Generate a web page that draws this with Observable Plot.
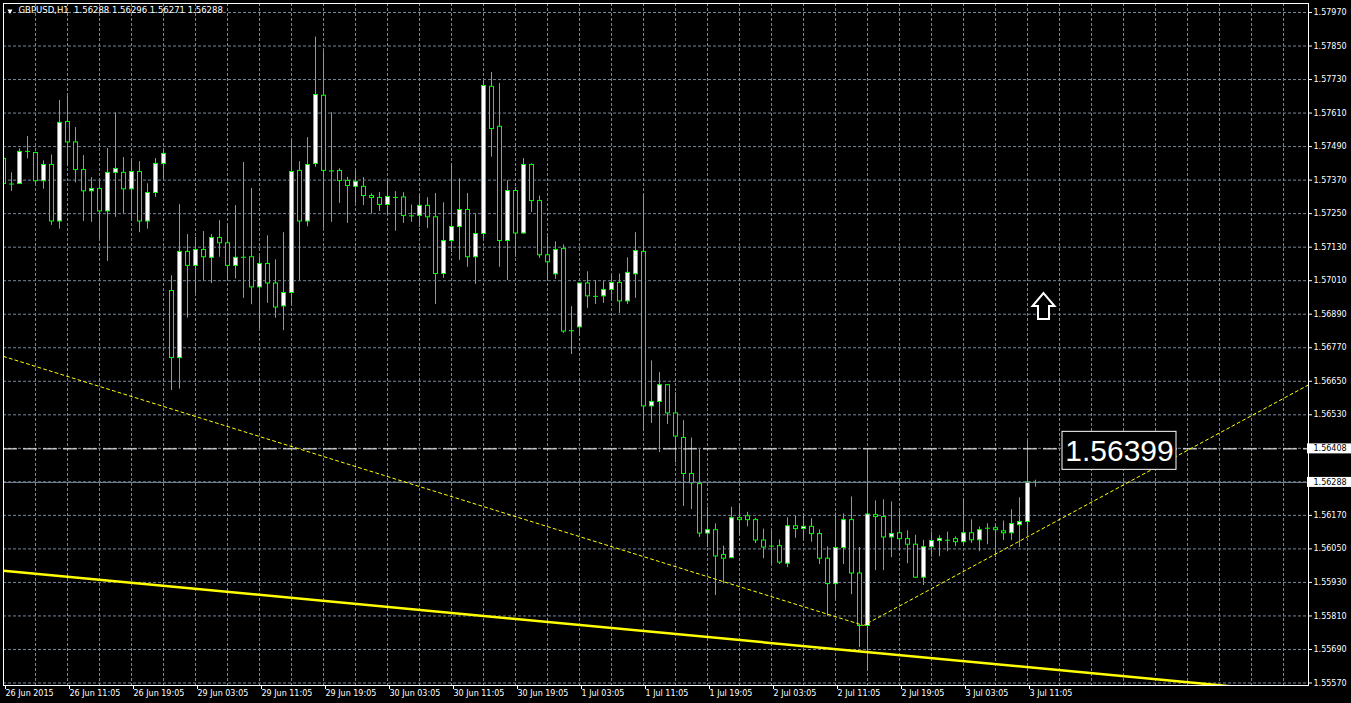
<!DOCTYPE html>
<html>
<head>
<meta charset="utf-8">
<script src="https://cdn.jsdelivr.net/npm/d3@7"></script>
<script src="https://cdn.jsdelivr.net/npm/@observablehq/plot@0.6"></script>
<style>
html,body{margin:0;padding:0;background:#000;overflow:hidden}
</style>
</head>
<body>
<div id="chart"></div>
<script>
// ---- header ----
const symbolName = "GBPUSD,H1";
const lastQuote = [1.56288, 1.56296, 1.56271, 1.56288];

// ---- hourly candles (bar 0 = 26 Jun 03:05 ... bar 129 = 3 Jul 12:05) ----
const opens = [1.57446,1.57356,1.57356,1.57473,1.57467,1.57366,1.57424,1.57222,1.57578,1.57505,
1.57406,1.57330,1.57338,1.57258,1.57396,1.57396,1.57337,1.57399,1.57222,1.57324,
1.57428,1.56973,1.56733,1.57113,1.57063,1.57120,1.57092,1.57163,1.57144,1.57063,
1.57094,1.57094,1.56986,1.57070,1.57000,1.56918,1.56966,1.57403,1.57222,1.57428,
1.57672,1.57403,1.57403,1.57367,1.57346,1.57346,1.57313,1.57306,1.57281,1.57308,
1.57308,1.57242,1.57242,1.57278,1.57237,1.57034,1.57152,1.57202,1.57263,1.57094,
1.57177,1.57704,1.57561,1.57152,1.57331,1.57179,1.57424,1.57295,1.57101,1.57033,
1.57124,1.56831,1.56843,1.57000,1.56954,1.56954,1.56977,1.57002,1.56936,1.57033,
1.57113,1.56560,1.56576,1.56636,1.56535,1.56447,1.56318,1.56282,1.56105,1.56117,
1.56028,1.56017,1.56160,1.56167,1.56153,1.56080,1.56060,1.56060,1.55997,1.56131,
1.56121,1.56129,1.56103,1.56015,1.55924,1.56053,1.56153,1.55962,1.55774,1.56171,
1.56164,1.56091,1.56106,1.56085,1.56065,1.55947,1.56056,1.56078,1.56081,1.56085,
1.56074,1.56106,1.56081,1.56124,1.56124,1.56113,1.56106,1.56135,1.56146,1.56288];

const highs = [1.57458,1.57396,1.57482,1.57526,1.57470,1.57439,1.57460,1.57655,1.57669,1.57558,
1.57458,1.57379,1.57365,1.57483,1.57611,1.57451,1.57442,1.57436,1.57357,1.57447,
1.57476,1.57028,1.57282,1.57175,1.57165,1.57186,1.57175,1.57225,1.57208,1.57279,
1.57433,1.57340,1.57096,1.57171,1.57085,1.57182,1.57512,1.57436,1.57522,1.57882,
1.57830,1.57611,1.57411,1.57380,1.57403,1.57379,1.57321,1.57326,1.57365,1.57329,
1.57325,1.57281,1.57317,1.57307,1.57322,1.57289,1.57429,1.57375,1.57322,1.57249,
1.57726,1.57755,1.57716,1.57368,1.57343,1.57447,1.57428,1.57313,1.57167,1.57149,
1.57138,1.56917,1.57000,1.57042,1.57010,1.57009,1.57030,1.57034,1.57092,1.57182,
1.57318,1.56723,1.56681,1.56638,1.56609,1.56509,1.56447,1.56407,1.56199,1.56140,
1.56060,1.56199,1.56207,1.56181,1.56160,1.56121,1.56113,1.56082,1.56161,1.56167,
1.56173,1.56158,1.56118,1.56057,1.56178,1.56175,1.56236,1.56055,1.56401,1.56222,
1.56226,1.56218,1.56186,1.56115,1.56099,1.56081,1.56110,1.56097,1.56110,1.56093,
1.56229,1.56154,1.56128,1.56140,1.56136,1.56150,1.56190,1.56233,1.56437,1.56296];

const lows = [1.57324,1.57329,1.57356,1.57446,1.57353,1.57337,1.57208,1.57194,1.57418,1.57360,
1.57222,1.57219,1.57159,1.57079,1.57237,1.57249,1.57222,1.57182,1.57194,1.57308,
1.57374,1.56617,1.56622,1.56876,1.56965,1.57008,1.57000,1.57094,1.57008,1.57016,
1.56947,1.56924,1.56838,1.56929,1.56876,1.56831,1.56923,1.57010,1.57203,1.57416,
1.57197,1.57219,1.57287,1.57215,1.57287,1.57279,1.57248,1.57258,1.57245,1.57187,
1.57215,1.57219,1.57201,1.57197,1.56925,1.57018,1.57111,1.57083,1.57058,1.56997,
1.57159,1.57452,1.57058,1.57011,1.57094,1.57176,1.57254,1.57090,1.57010,1.57015,
1.56821,1.56746,1.56811,1.56911,1.56925,1.56929,1.56939,1.56893,1.56925,1.56947,
1.56470,1.56499,1.56395,1.56495,1.56358,1.56202,1.56191,1.56091,1.56055,1.55883,
1.55924,1.56015,1.56098,1.56129,1.56069,1.56015,1.55994,1.55994,1.55983,1.56088,
1.56081,1.56074,1.55994,1.55808,1.55870,1.55994,1.55886,1.55697,1.55611,1.55972,
1.55972,1.56019,1.56044,1.55997,1.55944,1.55919,1.56020,1.56022,1.56040,1.56058,
1.56063,1.56070,1.56040,1.56065,1.56019,1.56080,1.56080,1.56055,1.56099,1.56271];

const closes = [1.57356,1.57356,1.57471,1.57473,1.57366,1.57424,1.57222,1.57575,1.57505,1.57406,
1.57330,1.57338,1.57258,1.57396,1.57410,1.57337,1.57399,1.57222,1.57324,1.57428,
1.57464,1.56733,1.57113,1.57063,1.57120,1.57094,1.57163,1.57144,1.57063,1.57092,
1.57094,1.56986,1.57070,1.57000,1.56914,1.56966,1.57399,1.57222,1.57424,1.57675,
1.57403,1.57403,1.57367,1.57349,1.57364,1.57313,1.57306,1.57281,1.57310,1.57308,
1.57242,1.57242,1.57278,1.57237,1.57034,1.57152,1.57202,1.57263,1.57094,1.57177,
1.57707,1.57553,1.57152,1.57331,1.57179,1.57424,1.57295,1.57101,1.57076,1.57120,
1.56828,1.56831,1.57000,1.56954,1.56954,1.56977,1.57002,1.56936,1.57038,1.57116,
1.56560,1.56576,1.56636,1.56535,1.56452,1.56318,1.56285,1.56105,1.56117,1.56023,
1.56015,1.56160,1.56153,1.56153,1.56080,1.56055,1.56060,1.56001,1.56131,1.56121,
1.56129,1.56103,1.56015,1.55924,1.56053,1.56153,1.55962,1.55774,1.56173,1.56164,
1.56091,1.56103,1.56085,1.56065,1.55947,1.56056,1.56078,1.56086,1.56081,1.56074,
1.56106,1.56081,1.56117,1.56124,1.56117,1.56106,1.56139,1.56146,1.56288,1.56288];

// ---- axes ----
const timeTickBars = [0,8,16,24,32,40,48,56,64,72,80,88,96,104,112,120,128];
const timeTickLabels = ["26 Jun 2015","26 Jun 11:05","26 Jun 19:05","29 Jun 03:05","29 Jun 11:05",
"29 Jun 19:05","30 Jun 03:05","30 Jun 11:05","30 Jun 19:05","1 Jul 03:05","1 Jul 11:05",
"1 Jul 19:05","2 Jul 03:05","2 Jul 11:05","2 Jul 19:05","3 Jul 03:05","3 Jul 11:05"];
const priceTicks = [1.57970,1.57850,1.57730,1.57610,1.57490,1.57370,1.57250,1.57130,1.57010,
1.56890,1.56770,1.56650,1.56530,1.56410,1.56290,1.56170,1.56050,1.55930,1.55810,1.55690,1.55570];
const barsVisible = 163.125;          // chart width in bars (incl. right shift)
const priceRange = [1.55570, 1.57970];

// ---- chart objects ----
const bidPrice = 1.56288;
const hLinePrice = 1.56408;
const priceLabel = [{text: "1.56399", bar: 139.5, price: 1.56401}];
const arrowObj = [{bar: 130, price: 1.56919}];
const solidTrend = [{bar: 0, price: 1.55972}, {bar: 163.125, price: 1.55532}];
const dottedTrend = [{bar: 0, price: 1.56739}, {bar: 107.5, price: 1.55776}, {bar: 163.125, price: 1.56637}];

// ---------------------------------------------------------------
const LIME = "#00ff00", GRID = "#778899", YEL = "#ffff00";
const bars = opens.map((o, i) => ({i, open: o, high: highs[i], low: lows[i], close: closes[i]}));
const bodies = bars.filter(d => d.open !== d.close);
const dojis = bars.filter(d => d.open === d.close);
const labelByBar = new Map(timeTickBars.map((b, k) => [b, timeTickLabels[k]]));
const gridBars = d3.range(4, barsVisible, 4);
const fmt = d3.format(".5f");
const header = `${symbolName}\u00a0\u00a0${lastQuote.map(fmt).join(" ")}`;

const upArrow = {
  draw(ctx, size) {
    const r = Math.sqrt(size / Math.PI), k = r / 13;
    ctx.moveTo(0, -13 * k);
    ctx.lineTo(11 * k, 0);
    ctx.lineTo(5.5 * k, 0);
    ctx.lineTo(5.5 * k, 13 * k);
    ctx.lineTo(-5.5 * k, 13 * k);
    ctx.lineTo(-5.5 * k, 0);
    ctx.lineTo(-11 * k, 0);
    ctx.closePath();
  }
};

const chart = Plot.plot({
  width: 1351, height: 703,
  marginLeft: 3, marginRight: 43, marginTop: 3, marginBottom: 18,
  style: {background: "#000", color: "#fff", fontFamily: "'DejaVu Sans', sans-serif", fontSize: "8px"},
  x: {type: "linear", domain: [0, barsVisible], range: [3, 1308]},
  y: {type: "linear", domain: priceRange, range: [682.5, 12]},
  marks: [
    Plot.gridX(gridBars, {stroke: GRID, strokeOpacity: 1, strokeDasharray: "3,2"}),
    Plot.gridY(priceTicks, {stroke: GRID, strokeOpacity: 1, strokeDasharray: "3,2"}),
    // candles
    Plot.ruleX(bars, {x: "i", y1: "low", y2: "high", stroke: LIME, clip: true}),
    Plot.rect(bodies, {
      x1: d => d.i - 0.1875, x2: d => d.i + 0.3125, y1: "open", y2: "close",
      fill: d => d.close > d.open ? "#ffffff" : "#000000", stroke: LIME, strokeWidth: 1, clip: true
    }),
    Plot.ruleY(dojis, {y: "open", x1: d => d.i - 0.25, x2: d => d.i + 0.375, stroke: LIME, clip: true}),
    // horizontal lines
    Plot.ruleY([bidPrice], {stroke: GRID, strokeWidth: 1}),
    Plot.ruleY([hLinePrice], {stroke: "#ffffff", strokeDasharray: "14,6"}),
    // trend lines
    Plot.line(solidTrend, {x: "bar", y: "price", stroke: YEL, strokeWidth: 2.5, clip: true}),
    Plot.line(dottedTrend, {x: "bar", y: "price", stroke: YEL, strokeWidth: 1, strokeDasharray: "3,3", clip: true}),
    // arrow object
    Plot.dot(arrowObj, {x: "bar", y: "price", symbol: upArrow, r: 13, fill: "#000", stroke: "#fff", strokeWidth: 2}),
    // text label object
    Plot.rect(priceLabel, {x1: "bar", x2: "bar", y1: "price", y2: "price",
      insetLeft: -57, insetRight: -57, insetTop: -19, insetBottom: -19, fill: "#000", stroke: "#fff"}),
    Plot.text(priceLabel, {x: "bar", y: "price", text: "text", fill: "#fff", fontSize: 30,
      fontFamily: "'Liberation Sans', Arial, sans-serif", dy: 1}),
    // frame
    Plot.frame({stroke: "#fff"}),
    // axes
    Plot.axisY(priceTicks, {anchor: "right", tickSize: 3, tickPadding: 2, tickFormat: fmt,
      stroke: "#fff", fill: "#fff", label: null}),
    Plot.axisX(timeTickBars, {anchor: "bottom", tickSize: 4, tickPadding: 1, tickFormat: d => labelByBar.get(d),
      textAnchor: "start", dx: 2, stroke: "#fff", fill: "#fff", label: null}),
    // axis price flags
    Plot.rect([hLinePrice, bidPrice], {x1: () => barsVisible, x2: () => barsVisible, y1: d => d, y2: d => d,
      insetLeft: -1, insetRight: -43, insetTop: -5, insetBottom: -5, fill: "#fff"}),
    Plot.text([hLinePrice, bidPrice], {y: d => d, text: d => fmt(d), frameAnchor: "right",
      dx: 5, textAnchor: "start", fill: "#000"}),
    // header
    Plot.dot([0], {frameAnchor: "top-left", dx: 6.5, dy: 7.5, symbol: "triangle2", rotate: 180, r: 2.4, fill: "#fff", stroke: "none"}),
    Plot.text([header], {frameAnchor: "top-left", dx: 15, dy: 3, lineAnchor: "top", textAnchor: "start",
      fill: "#fff", fontSize: 8.5})
  ]
});
document.getElementById("chart").appendChild(chart);
</script>
</body>
</html>
